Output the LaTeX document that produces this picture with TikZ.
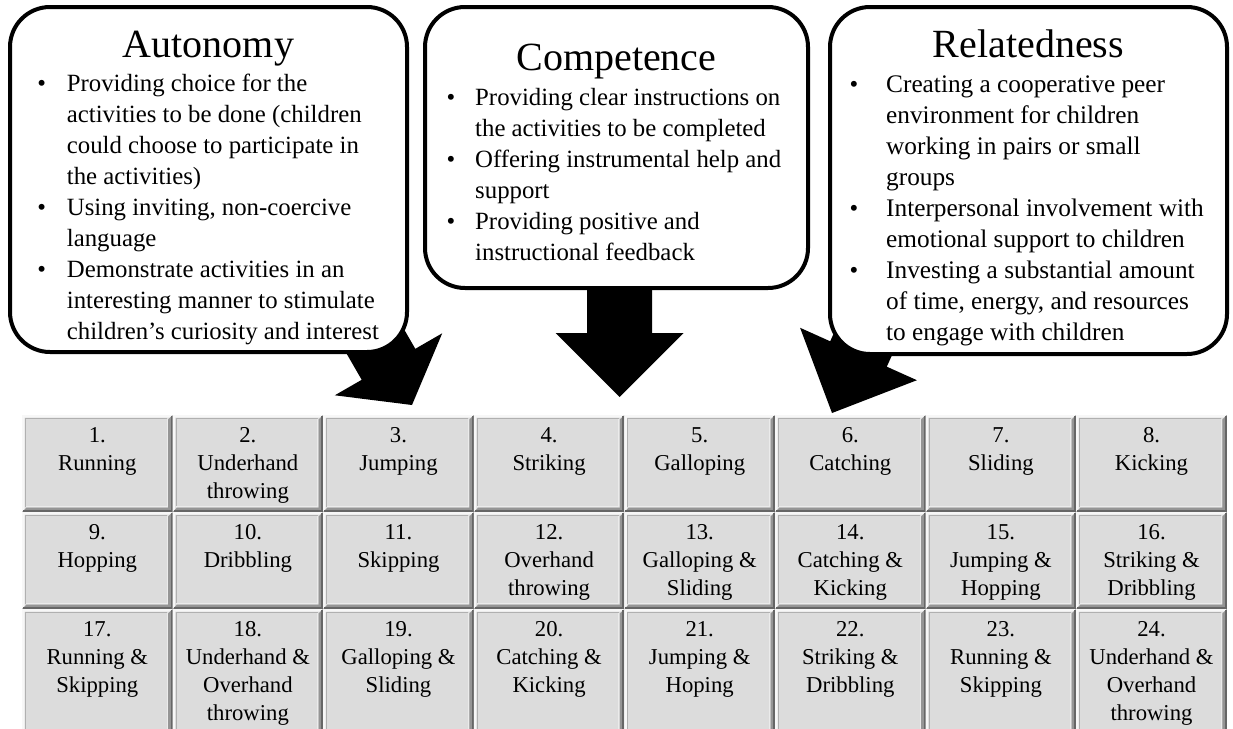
\documentclass[tikz,border=0pt]{standalone}
\usepackage{fontspec}
\setmainfont{Liberation Serif}
\definecolor{cellface}{HTML}{DCDCDC}
\definecolor{bevellight}{HTML}{F7F7F7}
\definecolor{beveldark}{HTML}{959595}
\definecolor{beveldeep}{HTML}{666666}
\definecolor{bevelgray}{HTML}{B0B0B0}
\definecolor{bevelhi}{HTML}{EBEBEB}
% one raised table cell: #1,#2 = top-left corner, #3,#4 = bottom-right corner
\newcommand\bevelcell[4]{%
  \fill[cellface] (#1,#2) rectangle (#3,#4);
  \fill[bevellight] (#1,#4) -- (#1,#2) -- (#3,#2) -- ({#3-2.5},{#2+2.5}) -- ({#1+2.5},{#2+2.5}) -- ({#1+2.5},{#4-2.5}) -- cycle;
  \fill[beveldark] (#3,#2) -- (#3,#4) -- (#1,#4) -- ({#1+4.5},{#4-4.5}) -- ({#3-4.5},{#4-4.5}) -- ({#3-4.5},{#2+4.5}) -- cycle;
  \draw[beveldeep, line width=2pt] ({#3-1},{#2+1}) -- ({#3-1},{#4-1}) -- ({#1+1},{#4-1});
  \draw[bevelgray, line width=1pt] ({#1+3.5},{#4-5.5}) -- ({#1+3.5},{#2+3.5}) -- ({#3-5.5},{#2+3.5});
  \draw[bevelhi, line width=1pt] ({#3-5.5},{#2+3.5}) -- ({#3-5.5},{#4-5.5}) -- ({#1+3.5},{#4-5.5});
}
\begin{document}
\begin{tikzpicture}[x=1pt,y=-1pt,
  needbox/.style={draw=black, line width=4pt, fill=white, rounded corners=40pt, inner sep=0pt},
  needtitle/.style={anchor=base, inner sep=0pt, font=\fontsize{40}{48}\selectfont},
  needitem/.style={anchor=base west, inner sep=0pt, font=\fontsize{24.8}{31}\selectfont},
  relitem/.style={anchor=base west, inner sep=0pt, font=\fontsize{25.3}{31}\selectfont},
  bulletmark/.style={anchor=base, inner sep=0pt, font=\fontsize{24.8}{31}\selectfont},
  blockarrow/.style={fill=black},
  celltext/.style={anchor=base, inner sep=0pt, font=\fontsize{22.7}{28}\selectfont},
]
\useasboundingbox (0,0) rectangle (1233,728);
\fill[white] (0,0) rectangle (1233,728);
\begin{scope}
\clip (0,0) rectangle (1233,728);

% block arrows (their tails are hidden under the boxes)
\coordinate (tipA) at (412,405);
\coordinate (tipC) at (619.5,397);
\coordinate (tipR) at (832,413);
\fill[blockarrow] (306.7,284.5) -- (361.7,379.8) -- (334.8,395.3) -- (tipA)
  -- (442.2,333.3) -- (415.3,348.8) -- (360.3,253.5) -- cycle;
\fill[blockarrow] (587,270) -- (587,333) -- (555.5,333) -- (tipC)
  -- (683.5,333) -- (652,333) -- (652,270) -- cycle;
\fill[blockarrow] (875.3,241) -- (830.2,341.3) -- (800.1,327.8) -- (tipR)
  -- (916.9,380.2) -- (886.8,366.7) -- (931.9,266.4) -- cycle;

% the three need boxes
\node[needbox, minimum width=397pt, minimum height=345pt] (aut) at (208.5,179.5) {};
\node[needbox, minimum width=383pt, minimum height=281pt] (comp) at (616.5,147.5) {};
\node[needbox, minimum width=397pt, minimum height=347pt] (rel) at (1028.5,180.5) {};

% Autonomy
\node[needtitle] (autT) at (208.5,57.5) {Autonomy};
\node[bulletmark] (autb1) at (41.7,91.7) {•};
\node[needitem] (auti1) at (66.7,91.7) {\parbox[t]{400pt}{\raggedright Providing choice for the\\activities to be done (children\\could choose to participate in\\the activities)}};
\node[bulletmark] (autb2) at (41.7,215.7) {•};
\node[needitem] (auti2) at (66.7,215.7) {\parbox[t]{400pt}{\raggedright Using inviting, non-coercive\\language}};
\node[bulletmark] (autb3) at (41.7,277.7) {•};
\node[needitem] (auti3) at (66.7,277.7) {\parbox[t]{400pt}{\raggedright Demonstrate activities in an\\interesting manner to stimulate\\children’s curiosity and interest}};

% Competence
\node[needtitle] (compT) at (616.5,70) {Competence};
\node[bulletmark] (compb1) at (451,105) {•};
\node[needitem] (compi1) at (475,105) {\parbox[t]{400pt}{\raggedright Providing clear instructions on\\the activities to be completed}};
\node[bulletmark] (compb2) at (451,167) {•};
\node[needitem] (compi2) at (475,167) {\parbox[t]{400pt}{\raggedright Offering instrumental help and\\support}};
\node[bulletmark] (compb3) at (451,229) {•};
\node[needitem] (compi3) at (475,229) {\parbox[t]{400pt}{\raggedright Providing positive and\\instructional feedback}};

% Relatedness
\node[needtitle] (relT) at (1028.5,57.5) {Relatedness};
\node[bulletmark] (relb1) at (854,92) {•};
\node[relitem] (reli1) at (886,92) {\parbox[t]{400pt}{\raggedright Creating a cooperative peer\\environment for children\\working in pairs or small\\groups}};
\node[bulletmark] (relb2) at (854,216) {•};
\node[relitem] (reli2) at (886,216) {\parbox[t]{400pt}{\raggedright Interpersonal involvement with\\emotional support to children}};
\node[bulletmark] (relb3) at (854,278) {•};
\node[relitem] (reli3) at (886,278) {\parbox[t]{400pt}{\raggedright Investing a substantial amount\\of time, energy, and resources\\to engage with children}};

% grid of 24 motor skills
\foreach \i/\txt in {
  1/{1.\\Running}, 2/{2.\\Underhand\\throwing}, 3/{3.\\Jumping}, 4/{4.\\Striking},
  5/{5.\\Galloping}, 6/{6.\\Catching}, 7/{7.\\Sliding}, 8/{8.\\Kicking},
  9/{9.\\Hopping}, 10/{10.\\Dribbling}, 11/{11.\\Skipping}, 12/{12.\\Overhand\\throwing},
  13/{13.\\Galloping \&\\Sliding}, 14/{14.\\Catching \&\\Kicking}, 15/{15.\\Jumping \&\\Hopping}, 16/{16.\\Striking \&\\Dribbling},
  17/{17.\\Running \&\\Skipping}, 18/{18.\\Underhand \&\\Overhand\\throwing}, 19/{19.\\Galloping \&\\Sliding}, 20/{20.\\Catching \&\\Kicking},
  21/{21.\\Jumping \&\\Hoping}, 22/{22.\\Striking \&\\Dribbling}, 23/{23.\\Running \&\\Skipping}, 24/{24.\\Underhand \&\\Overhand\\throwing}} {
  \pgfmathtruncatemacro\col{mod(\i-1,8)}
  \pgfmathtruncatemacro\row{(\i-1)/8}
  \pgfmathsetmacro\xa{22+150.6*\col}
  \pgfmathsetmacro\xb{\xa+150.6}
  \pgfmathsetmacro\ya{415+97*\row}
  \pgfmathsetmacro\yb{\row<2 ? \ya+97 : \ya+130}
  \bevelcell{\xa}{\ya}{\xb}{\yb}
  \node[celltext] (cell\i) at ({\xa+75.3},{\ya+27}) {\parbox[t]{146pt}{\centering \txt}};
}
\end{scope}
\end{tikzpicture}
\end{document}
